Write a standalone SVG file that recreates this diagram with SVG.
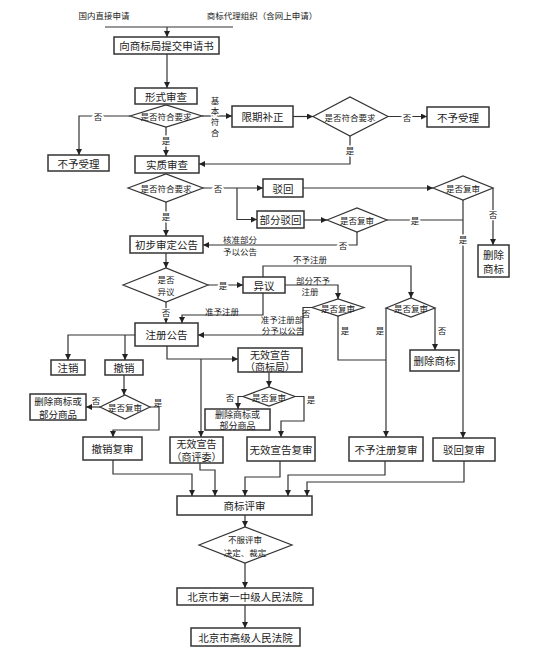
<svg xmlns="http://www.w3.org/2000/svg" width="539" height="667" viewBox="0 0 539 667">
<style>
.b{fill:#fff;stroke:#333;stroke-width:1.5}
.d{fill:#fff;stroke:#333;stroke-width:1.2}
.c{fill:none;stroke:#333;stroke-width:1.2}
.a{marker-end:url(#ah)}
text{font-family:"Noto Sans CJK SC","Noto Sans CJK TC",sans-serif;fill:#222;text-anchor:middle;dominant-baseline:central}
.t{font-size:10.5px}
.m{font-size:9px}
.s{font-size:8.5px}
.h{stroke:#fff;stroke-width:3;paint-order:stroke}
</style>
<defs>
<marker id="ah" viewBox="0 0 8 8" refX="8" refY="4" markerWidth="6" markerHeight="6" orient="auto" markerUnits="userSpaceOnUse"><path d="M0,0 L8,4 L0,8 z" fill="#222"/></marker>
</defs>
<rect width="539" height="667" fill="#fff"/>

<g id="sources">
<text class="s" x="104" y="15">国内直接申请</text>
<text class="s" x="262" y="15">商标代理组织（含网上申请）</text>
</g>

<g id="n1"><rect class="b" x="114" y="37" width="105" height="17"/><text class="t" x="166.5" y="45.5">向商标局提交申请书</text></g>
<g id="n2"><rect class="b" x="135" y="88" width="62" height="16"/><text class="t" x="166" y="96">形式审查</text></g>
<g id="d1"><polygon class="d" points="130,116 166,105 202,116 166,127"/><text class="s" x="166" y="116">是否符合要求</text></g>
<g id="n3"><rect class="b" x="48" y="155" width="61" height="16"/><text class="t" x="78.5" y="163">不予受理</text></g>
<g id="n4"><rect class="b" x="232" y="106" width="61" height="21"/><text class="t" x="262.5" y="116.5">限期补正</text></g>
<g id="d2"><polygon class="d" points="313,116.5 350,97 388,116.5 350,136"/><text class="s" x="350" y="116.5">是否符合要求</text></g>
<g id="n5"><rect class="b" x="427" y="107" width="62" height="20"/><text class="t" x="458" y="117">不予受理</text></g>
<g id="n6"><rect class="b" x="135" y="156" width="64" height="17"/><text class="t" x="167" y="164.5">实质审查</text></g>
<g id="d3"><polygon class="d" points="128,188 166,174 203,188 166,202"/><text class="s" x="166" y="188">是否符合要求</text></g>
<g id="n7"><rect class="b" x="130" y="236" width="73" height="17"/><text class="t" x="166.5" y="244.5">初步审定公告</text></g>
<g id="n8"><rect class="b" x="263" y="179" width="40" height="18"/><text class="t" x="283" y="188">驳回</text></g>
<g id="n9"><rect class="b" x="257" y="211" width="47" height="17"/><text class="t" x="280.5" y="219.5">部分驳回</text></g>
<g id="d4"><polygon class="d" points="433,188 463,176 493,188 463,200"/><text class="s" x="463" y="188">是否复审</text></g>
<g id="n10"><rect class="b" x="478" y="245" width="31" height="32"/><text class="t" x="493.5" y="254.5">删除</text><text class="t" x="493.5" y="268">商标</text></g>
<g id="d5"><polygon class="d" points="327,220 357,208 387,220 357,232"/><text class="s" x="357" y="220">是否复审</text></g>
<g id="d6"><polygon class="d" points="123,285 166,268 208,285 166,302"/><text class="s" x="166" y="279">是否</text><text class="s" x="166" y="291">异议</text></g>
<g id="n11"><rect class="b" x="243" y="277" width="42" height="16"/><text class="t" x="264" y="285">异议</text></g>
<g id="d7"><polygon class="d" points="312,307.5 338,299 364,307.5 338,316"/><text class="s" x="338" y="307.5">是否复审</text></g>
<g id="d8"><polygon class="d" points="386,308 411,298 435,308 411,317"/><text class="s" x="411" y="307.5">是否复审</text></g>
<g id="n12"><rect class="b" x="410" y="350" width="49" height="21"/><text class="t" x="434.5" y="360.5">删除商标</text></g>
<g id="n13"><rect class="b" x="135" y="323" width="63" height="23"/><text class="t" x="166.5" y="334.5">注册公告</text></g>
<g id="n14"><rect class="b" x="51" y="360" width="34" height="15"/><text class="t" x="68" y="367.5">注销</text></g>
<g id="n15"><rect class="b" x="105" y="360" width="38" height="15"/><text class="t" x="124" y="367.5">撤销</text></g>
<g id="d9"><polygon class="d" points="100,407 125,395 150,407 125,419"/><text class="s" x="125" y="407">是否复审</text></g>
<g id="n16"><rect class="b" x="30" y="394" width="56" height="26"/><text class="t" x="58" y="400.5" style="font-size:9.5px">删除商标或</text><text class="t" x="58" y="413.5" style="font-size:9.5px">部分商品</text></g>
<g id="n17"><rect class="b" x="83" y="437" width="59" height="23"/><text class="t" x="112.5" y="448.5">撤销复审</text></g>
<g id="n18"><rect class="b" x="238" y="348" width="64" height="24"/><text class="t" x="270" y="354" style="font-size:10px">无效宣告</text><text class="t" x="270" y="366.5" style="font-size:10px">（商标局）</text></g>
<g id="d10"><polygon class="d" points="243,396.5 269,387 295,396.5 269,406"/><text class="s" x="269" y="396.5">是否复审</text></g>
<g id="n19"><rect class="b" x="205" y="409" width="65" height="21"/><text class="m" x="237.5" y="414">删除商标或</text><text class="m" x="237.5" y="425">部分商品</text></g>
<g id="n20"><rect class="b" x="247" y="437" width="68" height="24"/><text class="t" x="281" y="449">无效宣告复审</text></g>
<g id="n21"><rect class="b" x="170" y="437" width="53" height="26"/><text class="t" x="196.5" y="443.5" style="font-size:10px">无效宣告</text><text class="t" x="196.5" y="456.5" style="font-size:10px">（商评委）</text></g>
<g id="n22"><rect class="b" x="349" y="437" width="74" height="24"/><text class="t" x="386" y="449">不予注册复审</text></g>
<g id="n23"><rect class="b" x="433" y="438" width="62" height="23"/><text class="t" x="464" y="449.5">驳回复审</text></g>
<g id="n24"><rect class="b" x="177" y="496" width="135" height="19"/><text class="t" x="244.5" y="505.5">商标评审</text></g>
<g id="d11"><polygon class="d" points="199,545 245,527 292,545 245,563"/><text class="s" x="245" y="539">不服评审</text><text class="s" x="245" y="551.5">决定、裁定</text></g>
<g id="n25"><rect class="b" x="177" y="588" width="136" height="17"/><text class="t" x="245" y="596.5">北京市第一中级人民法院</text></g>
<g id="n26"><rect class="b" x="191" y="628" width="109" height="18"/><text class="t" x="245.5" y="637">北京市高级人民法院</text></g>

<g id="connectors">
<path class="c" d="M105,27 H233"/>
<path class="c a" d="M167,27 V37"/>
<path class="c a" d="M167,54 V88"/>
<path class="c a" d="M130,116 H79 V155"/>
<path class="c a" d="M166,127 V156"/>
<path class="c a" d="M202,116 H232"/>
<path class="c a" d="M293,116.5 H313"/>
<path class="c a" d="M388,116.5 H427"/>
<path class="c a" d="M350,136 V164 H199"/>
<path class="c a" d="M166,202 V236"/>
<path class="c a" d="M203,188 H263"/>
<path class="c a" d="M237,188 V219.5 H257"/>
<path class="c a" d="M303,188 H433"/>
<path class="c a" d="M493,188 V245"/>
<path class="c a" d="M463,200 V438"/>
<path class="c a" d="M304,220 H327"/>
<path class="c" d="M387,220 H463"/>
<path class="c a" d="M357,232 V245 H203"/>
<path class="c a" d="M166,253 V268"/>
<path class="c a" d="M208,285 H243"/>
<path class="c a" d="M263,277 V266 H411 V298"/>
<path class="c a" d="M285,285 H338 V299"/>
<path class="c a" d="M312,307.5 H303 V335 H198"/>
<path class="c" d="M338,316 V360 H386"/>
<path class="c a" d="M386,308 V437"/>
<path class="c a" d="M435,308 V350"/>
<path class="c a" d="M263,293 V315 H182 V323"/>
<path class="c a" d="M166,302 V323"/>
<path class="c a" d="M135,335 H68 V360"/>
<path class="c a" d="M125,335 V360"/>
<path class="c a" d="M124,375 V395"/>
<path class="c a" d="M100,407 H86"/>
<path class="c a" d="M150,407 H159 V430 H113 V437"/>
<path class="c a" d="M167,346 V359 H238"/>
<path class="c a" d="M201,359 V437"/>
<path class="c a" d="M269,372 V387"/>
<path class="c a" d="M243,396.5 H238 V409"/>
<path class="c a" d="M295,396.5 H304 V421 H281 V437"/>
<path class="c a" d="M113,460 V474 H192 V496"/>
<path class="c a" d="M200,463 V470 H215 V496"/>
<path class="c a" d="M280,461 V477 H245 V496"/>
<path class="c a" d="M385,461 V475 H288 V496"/>
<path class="c a" d="M464,461 V482 H307 V496"/>
<path class="c a" d="M245,515 V527"/>
<path class="c a" d="M245,563 V588"/>
<path class="c a" d="M245,605 V628"/>

<g id="labels">
<text class="s h" x="98" y="116">否</text>
<text class="s h" x="166" y="140">是</text>
<text class="s h" x="215" y="100">基</text>
<text class="s h" x="215" y="110">本</text>
<text class="s h" x="215" y="121">符</text>
<text class="s h" x="215" y="131.5">合</text>
<text class="s h" x="407" y="116.5">否</text>
<text class="s h" x="350" y="150">是</text>
<text class="s h" x="218" y="188">否</text>
<text class="s h" x="166" y="216">是</text>
<text class="s h" x="493" y="214">否</text>
<text class="s h" x="463" y="239">是</text>
<text class="s h" x="415" y="220">是</text>
<text class="s h" x="343" y="245">否</text>
<text class="s" x="240" y="239">核准部分</text>
<text class="s" x="240" y="251">予以公告</text>
<text class="s h" x="223" y="285">是</text>
<text class="s" x="310" y="259">不予注册</text>
<text class="s" x="313" y="279.5">部分不予</text>
<text class="s" x="310" y="291">注册</text>
<text class="s" x="306" y="313">否</text>
<text class="s" x="282" y="319">准予注册部</text>
<text class="s" x="283" y="329.5">分予以公告</text>
<text class="s" x="345" y="330">是</text>
<text class="s" x="380" y="330">是</text>
<text class="s" x="442" y="330">否</text>
<text class="s" x="222" y="310.5">准予注册</text>
<text class="s h" x="166" y="312">否</text>
<text class="s" x="96" y="400">否</text>
<text class="s" x="158" y="401.5">是</text>
<text class="s" x="230" y="397">否</text>
<text class="s" x="311" y="399">是</text>
</g>
</g>
</svg>
